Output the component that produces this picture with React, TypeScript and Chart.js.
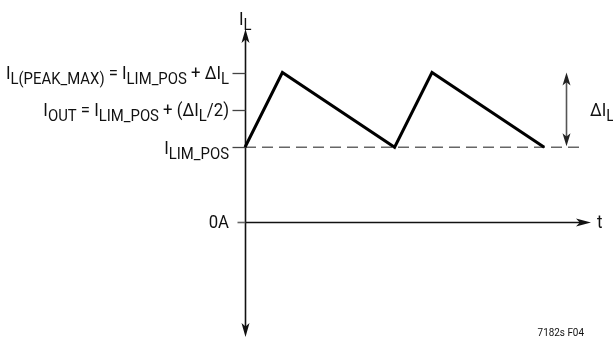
import React, { useEffect, useRef } from "react";
import { Chart, registerables } from "chart.js";
Chart.register(...registerables);

const W = 613;
const H = 341;

// time in units of the switch on-time, current in units of ΔIL
const waveTime = [0, 1, 4, 5, 8];
const waveCurrent = [1, 2, 1, 2, 1];
const limitLineTime = [0, 9.04];
const limitCurrent = 1;
const tickCurrents = [2, 1.5, 1];
const zeroCurrent = 0;
const rippleArrowTime = 8.583;
const rippleRange = [1, 2];

type Seg = { t: string; sub?: boolean };
const tickLabels: Seg[][] = [
  [{ t: "I" }, { t: "L(PEAK_MAX)", sub: true }, { t: " = I" }, { t: "LIM_POS", sub: true }, { t: " + ΔI" }, { t: "L", sub: true }],
  [{ t: "I" }, { t: "OUT", sub: true }, { t: " = I" }, { t: "LIM_POS", sub: true }, { t: " + (ΔI" }, { t: "L", sub: true }, { t: "/2)" }],
  [{ t: "I" }, { t: "LIM_POS", sub: true }],
];
const zeroLabel: Seg[] = [{ t: "0A" }];
const yAxisLabel: Seg[] = [{ t: "I" }, { t: "L", sub: true }];
const xAxisLabel: Seg[] = [{ t: "t" }];
const rippleLabel: Seg[] = [{ t: "ΔI" }, { t: "L", sub: true }];
const figureId = "7182s F04";

const FAMILY = 'Roboto, "Liberation Sans", sans-serif';
const MAIN = 18;
const SUB = 16;
const SUB_SHIFT = 5;
const SX = 0.93;

function richWidth(ctx: CanvasRenderingContext2D, segs: Seg[]) {
  let w = 0;
  for (const s of segs) {
    ctx.font = `${s.sub ? SUB : MAIN}px ${FAMILY}`;
    w += ctx.measureText(s.t).width;
  }
  return w * SX;
}

function drawRich(ctx: CanvasRenderingContext2D, segs: Seg[], x: number, baseline: number, align: "left" | "right") {
  const start = align === "right" ? x - richWidth(ctx, segs) : x;
  ctx.save();
  ctx.translate(start, baseline);
  ctx.scale(SX, 1);
  ctx.textAlign = "left";
  ctx.textBaseline = "alphabetic";
  let cx = 0;
  for (const s of segs) {
    ctx.font = `${s.sub ? SUB : MAIN}px ${FAMILY}`;
    ctx.fillText(s.t, cx, s.sub ? SUB_SHIFT : 0);
    cx += ctx.measureText(s.t).width;
  }
  ctx.restore();
}

function arrowHead(ctx: CanvasRenderingContext2D, tx: number, ty: number, dx: number, dy: number, len: number, half: number) {
  const bx = tx - dx * len;
  const by = ty - dy * len;
  const nx = -dy;
  const ny = dx;
  ctx.beginPath();
  ctx.moveTo(tx, ty);
  ctx.lineTo(bx + nx * half, by + ny * half);
  ctx.lineTo(tx - dx * len * 0.75, ty - dy * len * 0.75);
  ctx.lineTo(bx - nx * half, by - ny * half);
  ctx.closePath();
  ctx.fill();
}

const diagramPlugin = {
  id: "diagram",
  beforeDatasetsDraw(chart: any) {
    const { ctx } = chart;
    const xs = chart.scales.x;
    const ys = chart.scales.y;
    const px = (v: number) => xs.getPixelForValue(v);
    const py = (v: number) => ys.getPixelForValue(v);
    ctx.save();
    const ax = Math.round(px(0)) + 0.5;
    // vertical axis
    ctx.strokeStyle = "#111";
    ctx.fillStyle = "#111";
    ctx.lineWidth = 1.6;
    const topTip = 29;
    const botTip = 337;
    ctx.beginPath();
    ctx.moveTo(ax, topTip + 6);
    ctx.lineTo(ax, botTip - 6);
    ctx.stroke();
    arrowHead(ctx, ax, topTip, 0, -1, 14, 4);
    arrowHead(ctx, ax, botTip, 0, 1, 14, 4);
    // horizontal axis
    const zy = Math.round(py(zeroCurrent)) + 0.5;
    ctx.strokeStyle = "#666";
    ctx.beginPath();
    ctx.moveTo(ax - 8, zy);
    ctx.lineTo(ax, zy);
    ctx.stroke();
    ctx.strokeStyle = "#111";
    ctx.beginPath();
    ctx.moveTo(ax, zy);
    ctx.lineTo(591 - 6, zy);
    ctx.stroke();
    arrowHead(ctx, 591, zy, 1, 0, 15, 4);
    // ticks
    ctx.strokeStyle = "#444";
    ctx.lineWidth = 1.3;
    for (const c of tickCurrents) {
      const ty = Math.round(py(c)) + 0.5;
      ctx.beginPath();
      ctx.moveTo(ax - 13, ty);
      ctx.lineTo(ax, ty);
      ctx.stroke();
    }
    // ripple double arrow
    const rx = Math.round(px(rippleArrowTime)) + 0.5;
    const r1 = py(rippleRange[1]);
    const r0 = py(rippleRange[0]);
    ctx.strokeStyle = "#555";
    ctx.fillStyle = "#222";
    ctx.lineWidth = 1.6;
    ctx.beginPath();
    ctx.moveTo(rx, r1 + 8);
    ctx.lineTo(rx, r0 - 8);
    ctx.stroke();
    arrowHead(ctx, rx, r1, 0, -1, 13, 4);
    arrowHead(ctx, rx, r0 - 1, 0, 1, 13, 4);
    ctx.restore();
  },
  afterDatasetsDraw(chart: any) {
    const { ctx } = chart;
    const xs = chart.scales.x;
    const ys = chart.scales.y;
    const px = (v: number) => xs.getPixelForValue(v);
    const py = (v: number) => ys.getPixelForValue(v);
    ctx.save();
    ctx.fillStyle = "#111";
    const right = px(0) - 16;
    tickCurrents.forEach((c, i) => {
      drawRich(ctx, tickLabels[i], right, py(c) + 6.5, "right");
    });
    drawRich(ctx, zeroLabel, right, py(zeroCurrent) + 6, "right");
    drawRich(ctx, xAxisLabel, 597, py(zeroCurrent) + 6, "left");
    drawRich(ctx, yAxisLabel, px(0) - 6, 25, "left");
    drawRich(ctx, rippleLabel, 590, py((rippleRange[0] + rippleRange[1]) / 2) + 6.5, "left");
    ctx.save();
    ctx.translate(584, 336);
    ctx.scale(0.9, 1);
    ctx.font = `11px ${FAMILY}`;
    ctx.textAlign = "right";
    ctx.textBaseline = "alphabetic";
    ctx.fillText(figureId, 0, 0);
    ctx.restore();
    ctx.restore();
  },
};

export default function App() {
  const ref = useRef<HTMLCanvasElement>(null);
  useEffect(() => {
    if (!ref.current) return;
    const chart = new Chart(ref.current, {
      type: "line",
      data: {
        datasets: [
          {
            data: waveTime.map((t, i) => ({ x: t, y: waveCurrent[i] })),
            borderColor: "#000",
            borderWidth: 3,
            pointRadius: 0,
            tension: 0,
            borderJoinStyle: "miter",
          },
          {
            data: limitLineTime.map((t) => ({ x: t, y: limitCurrent })),
            borderColor: "#666",
            borderWidth: 1.4,
            borderDash: [11, 6],
            pointRadius: 0,
          },
        ],
      },
      options: {
        animation: false,
        responsive: false,
        devicePixelRatio: 1,
        layout: { padding: 0 },
        plugins: { legend: { display: false }, tooltip: { enabled: false } },
        scales: {
          x: { type: "linear", display: false, min: -6.551, max: 9.84 },
          y: { type: "linear", display: false, min: -1.592, max: 2.97 },
        },
      },
      plugins: [diagramPlugin],
    } as any);
    return () => chart.destroy();
  }, []);
  return (
    <div style={{ position: "fixed", left: 0, top: 0, width: W, height: H, background: "#fff" }}>
      <canvas ref={ref} width={W} height={H} style={{ width: W, height: H, display: "block" }} />
    </div>
  );
}
